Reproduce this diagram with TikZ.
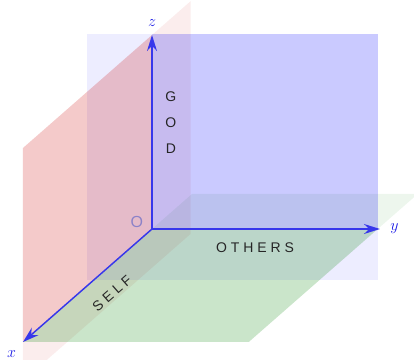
\documentclass[tikz,border=0pt]{standalone}
\usepackage{fontspec}
\setmainfont{Liberation Sans}
\usetikzlibrary{arrows.meta,positioning}

\definecolor{bluep}{RGB}{0,0,255}
\definecolor{redp}{RGB}{200,0,0}
\definecolor{greenp}{RGB}{0,128,0}
\definecolor{axisblue}{RGB}{55,55,235}
\definecolor{labelblue}{RGB}{30,30,230}
\definecolor{origingray}{RGB}{140,130,200}

\begin{document}
\begin{tikzpicture}[x={(-96.75pt,-84.75pt)}, y={(171pt,0pt)}, z={(0pt,145.5pt)}, >={Stealth[length=12pt,width=7.5pt]}]
    % Styles
    \tikzstyle{faint} = [fill opacity=0.07]
    \tikzstyle{strong} = [fill opacity=0.15]
    \tikzstyle{axis} = [draw=axisblue, line width=1.1pt, ->]
    \tikzstyle{axislabel} = [text=labelblue, font=\fontsize{13pt}{15pt}\selectfont, inner sep=1pt]
    \tikzstyle{word} = [text=black!85, font=\fontsize{10.5pt}{19.5pt}\selectfont, inner sep=0pt]

    \clip (-114pt,-98.25pt) rectangle (196.5pt,171.75pt);

    % Planes (whole, faint)
    \fill [bluep, faint] (0,-0.285,-0.263) -- (0,0.99,-0.263) -- (0,0.99,1.005) -- (0,-0.285,1.005) -- cycle;
    \fill [redp, faint] (-0.3,0,-0.2) -- (1,0,-0.2) -- (1,0,1) -- (-0.3,0,1) -- cycle;
    \fill [greenp, faint] (-0.31,0,0) -- (1,0,0) -- (1,0.99,0) -- (-0.31,0.99,0) -- cycle;

    % Planes (front quarters)
    \fill [bluep, strong] (0,0,0) -- (0,0.99,0) -- (0,0.99,1.005) -- (0,0,1.005) -- cycle;
    \fill [redp, strong] (0,0,0) -- (1,0,0) -- (1,0,1) -- (0,0,1) -- cycle;
    \fill [greenp, strong] (0,0,0) -- (1,0,0) -- (1,0.99,0) -- (0,0.99,0) -- cycle;

    % Nodes
    \coordinate (O) at (0,0,0);
    \coordinate (xtip) at (1,0,0);
    \coordinate (ytip) at (0,1,0);
    \coordinate (ztip) at (0,0,1);
    \node [axislabel, above=5pt of ztip] (zlab) {$z$};
    \node [axislabel, right=6.5pt of ytip] (ylab) {$y$};
    \node [axislabel, below left=5pt and 4pt of xtip] (xlab) {$x$};
    \node [text=origingray, font=\fontsize{12pt}{14pt}\selectfont, inner sep=0pt] (olab) at (0,-0.066,0.036) {O};
    \node [word, align=center] (god) at (0,0.083,0.546) {G\\O\\D};
    \node [word] (others) at (0,0.452,-0.098) {O T H E R S};
    \node [word, rotate=41.2] (self) at (0.31,0,-0.15) {S E L F};

    % Axes
    \draw [axis] (O) -- (xtip);
    \draw [axis] (O) -- (ytip);
    \draw [axis] (O) -- (ztip);
\end{tikzpicture}
\end{document}
